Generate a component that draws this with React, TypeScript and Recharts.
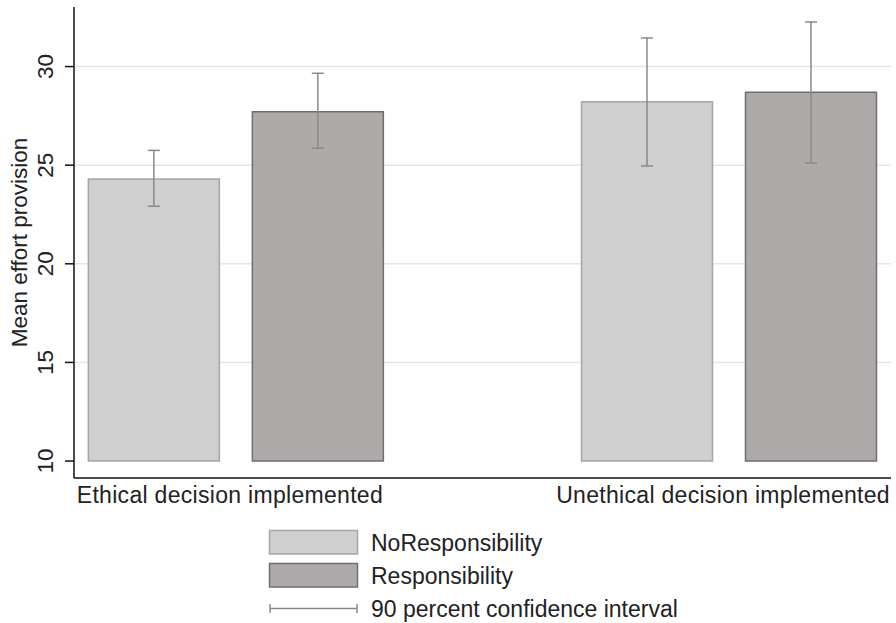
import React from 'react';
import { BarChart, Bar, XAxis, YAxis, CartesianGrid, ErrorBar } from 'recharts';

const groups = ['Ethical decision implemented', 'Unethical decision implemented'];
const seriesNames = ['NoResponsibility', 'Responsibility'];
const noRespMean = [24.3, 28.21];
const noRespLow = [22.92, 24.96];
const noRespHigh = [25.75, 31.45];
const respMean = [27.71, 28.7];
const respLow = [25.86, 25.11];
const respHigh = [29.66, 32.26];
const yTicks = [10, 15, 20, 25, 30];
const gridValues = [15, 20, 25, 30];
const baseValue = 10;

const data = groups.map((g, i) => ({
  group: g,
  noResp: [baseValue, noRespMean[i]],
  noRespErr: [noRespMean[i] - noRespLow[i], noRespHigh[i] - noRespMean[i]],
  resp: [baseValue, respMean[i]],
  respErr: [respMean[i] - respLow[i], respHigh[i] - respMean[i]],
}));

const FONT = '"Liberation Sans", Arial, sans-serif';
const TEXT = '#222';
const C_NORESP = '#d0cfd0';
const C_NORESP_EDGE = '#a6a6a6';
const C_RESP = '#aeaaa9';
const C_RESP_EDGE = '#6f6f6f';
const C_ERR = '#8a8a8a';

function YTick(props: any) {
  const { x, y, payload } = props;
  return (
    <text
      transform={`translate(${x - 18}, ${y}) rotate(-90)`}
      textAnchor="middle"
      dominantBaseline="central"
      fontFamily={FONT}
      fontSize={22.5}
      fill={TEXT}
    >
      {payload.value}
    </text>
  );
}

function XTick(props: any) {
  const { x, y, payload } = props;
  return (
    <text x={x - 6} y={y + 17} textAnchor="middle" fontFamily={FONT} fontSize={23} fill={TEXT} letterSpacing={0.3}>
      {payload.value}
    </text>
  );
}

function YTitle(props: any) {
  const { viewBox } = props;
  return (
    <text
      transform={`translate(${viewBox.x + 19}, ${viewBox.y + viewBox.height / 2}) rotate(-90)`}
      textAnchor="middle"
      dominantBaseline="central"
      fontFamily={FONT}
      fontSize={22.5}
      fill={TEXT}
    >
      Mean effort provision
    </text>
  );
}

function LegendBox() {
  return (
    <svg width={896} height={623} style={{ position: 'absolute', left: 0, top: 0, pointerEvents: 'none' }}>
      <rect x={269.5} y={530.5} width={88} height={23.5} fill={C_NORESP} stroke={C_NORESP_EDGE} strokeWidth={1.5} />
      <text x={371} y={551} fontFamily={FONT} fontSize={23} fill={TEXT}>{seriesNames[0]}</text>
      <rect x={269.5} y={563.5} width={88} height={23.5} fill={C_RESP} stroke={C_RESP_EDGE} strokeWidth={1.5} />
      <text x={371} y={584} fontFamily={FONT} fontSize={23} fill={TEXT}>{seriesNames[1]}</text>
      <line x1={270} y1={608.5} x2={357} y2={608.5} stroke={C_ERR} strokeWidth={1.5} />
      <line x1={270} y1={604} x2={270} y2={613} stroke={C_ERR} strokeWidth={1.5} />
      <line x1={357} y1={604} x2={357} y2={613} stroke={C_ERR} strokeWidth={1.5} />
      <text x={371} y={617} fontFamily={FONT} fontSize={23} fill={TEXT}>90 percent confidence interval</text>
    </svg>
  );
}

export default function App() {
  return (
    <div style={{ position: 'absolute', left: 0, top: 0, width: 896, height: 623, background: '#fff' }}>
      <BarChart
        width={896}
        height={623}
        data={data}
        margin={{ top: 7, right: 5, bottom: 105, left: 0 }}
        barSize={131}
        barGap={33}
      >
        <CartesianGrid vertical={false} horizontalValues={gridValues} stroke="#e6e6e6" strokeWidth={1.5} />
        <XAxis
          dataKey="group"
          type="category"
          height={40}
          padding={{ left: -84.65, right: -84.65 }}
          axisLine={{ stroke: '#111', strokeWidth: 1.5 }}
          tickLine={false}
          tick={<XTick />}
          interval={0}
        />
        <YAxis
          type="number"
          width={74}
          domain={[9.14, 33.02]}
          ticks={yTicks}
          allowDataOverflow
          axisLine={{ stroke: '#111', strokeWidth: 1.5 }}
          tickLine={{ stroke: '#111', strokeWidth: 1.5 }}
          tickSize={9}
          tick={<YTick />}
          label={<YTitle />}
        />
        <Bar dataKey="noResp" fill={C_NORESP} stroke={C_NORESP_EDGE} strokeWidth={1.5} isAnimationActive={false}>
          <ErrorBar dataKey="noRespErr" width={6} stroke={C_ERR} strokeWidth={1.5} isAnimationActive={false} />
        </Bar>
        <Bar dataKey="resp" fill={C_RESP} stroke={C_RESP_EDGE} strokeWidth={1.5} isAnimationActive={false}>
          <ErrorBar dataKey="respErr" width={6} stroke={C_ERR} strokeWidth={1.5} isAnimationActive={false} />
        </Bar>
      </BarChart>
      <LegendBox />
    </div>
  );
}
